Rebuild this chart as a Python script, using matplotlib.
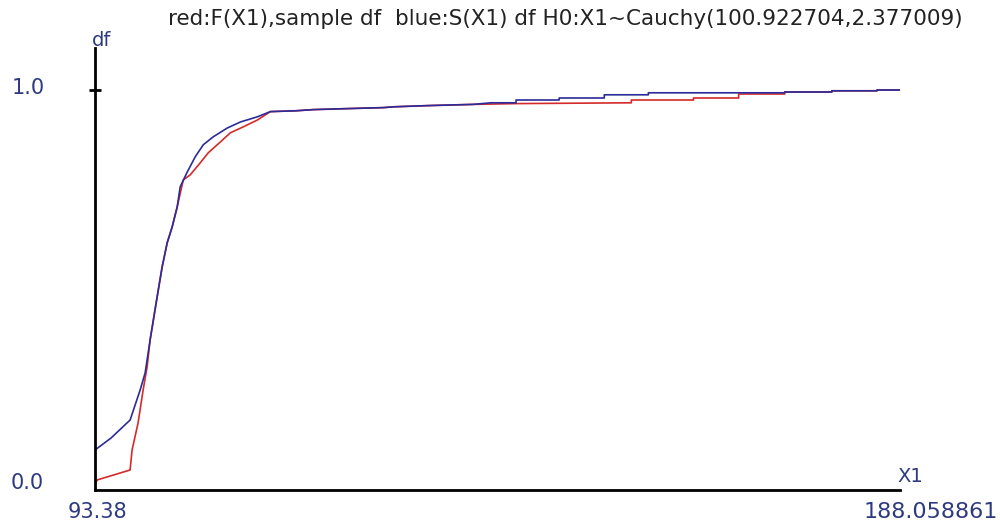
import matplotlib
matplotlib.use("Agg")
from matplotlib import pyplot as plt

# sample df S(X1) (blue) and fitted Cauchy F(X1) (red)
blue_x = [93.38, 95.27, 97.51, 98.69, 99.28, 99.86, 100.69, 101.28, 101.87, 102.46,
          103.05, 103.40, 104.23, 105.17, 106.11, 107.29, 108.94, 110.48, 112.48,
          114.01, 116.96, 119.08, 122.27, 127.34, 128.52, 132.53, 137.83, 139.95,
          142.90, 142.90, 147.97, 147.97, 153.28, 153.28, 158.46, 158.46, 174.50,
          174.50, 180.04, 180.04, 185.35, 185.35, 188.06]
blue_y = [0.100, 0.130, 0.175, 0.250, 0.293, 0.375, 0.483, 0.558, 0.618, 0.658,
          0.708, 0.758, 0.795, 0.833, 0.863, 0.883, 0.905, 0.920, 0.933,
          0.946, 0.948, 0.951, 0.953, 0.956, 0.958, 0.961, 0.964, 0.968,
          0.968, 0.975, 0.975, 0.980, 0.980, 0.988, 0.988, 0.993, 0.993,
          0.995, 0.995, 0.998, 0.998, 1.000, 1.000]

red_x = [93.38, 93.62, 97.51, 97.74, 98.45, 99.04, 99.51, 99.86, 100.69, 101.28,
         101.87, 102.46, 103.05, 103.76, 104.58, 105.76, 106.70, 108.12, 109.30,
         110.83, 112.48, 114.01, 116.96, 119.08, 122.27, 127.34, 128.52, 132.53,
         137.83, 142.90, 156.46, 156.46, 163.77, 163.77, 169.08, 169.08, 174.50,
         174.50, 180.04, 180.04, 185.35, 185.35, 188.06]
red_y = [0.013, 0.025, 0.050, 0.100, 0.168, 0.250, 0.308, 0.375, 0.483, 0.558,
         0.618, 0.658, 0.708, 0.775, 0.788, 0.818, 0.843, 0.870, 0.893,
         0.908, 0.925, 0.946, 0.948, 0.951, 0.953, 0.956, 0.958, 0.961,
         0.964, 0.966, 0.968, 0.975, 0.975, 0.980, 0.980, 0.990, 0.990,
         0.995, 0.995, 0.998, 0.998, 1.000, 1.000]

x_min, x_max = 93.38, 188.058861
title = "red:F(X1),sample df  blue:S(X1) df H0:X1~Cauchy(100.922704,2.377009)"
lab_col = "#2e3a80"

plt.rcParams['font.family'] = ['DejaVu Sans']

fig = plt.figure(figsize=(10, 5.25), dpi=100)
ax = fig.add_axes([0.095, 35 / 525, 0.805, 442 / 525])

ax.plot(red_x, red_y, color="#d42a2a", lw=1.2)
ax.plot(blue_x, blue_y, color="#2b2b9a", lw=1.2)

ax.set_xlim(x_min, x_max)
ax.set_ylim(0, 1.105)
for s in ["top", "right"]:
    ax.spines[s].set_visible(False)
for s in ["left", "bottom"]:
    ax.spines[s].set_linewidth(2.0)
    ax.spines[s].set_color("black")
ax.set_xticks([])
ax.set_yticks([1.0])
ax.set_yticklabels([])
ax.tick_params(axis="y", direction="inout", length=8, width=2)

fig.text(0.012, 1 - 88 / 525, "1.0", fontsize=15, color=lab_col, ha="left", va="center")
fig.text(0.011, 1 - 483 / 525, "0.0", fontsize=15, color=lab_col, ha="left", va="center")
fig.text(0.097, 1 - 512 / 525, "93.38", fontsize=15, color=lab_col, ha="center", va="center")
fig.text(0.998, 1 - 512 / 525, "188.058861", fontsize=16, color=lab_col, ha="right", va="center")
fig.text(0.897, 1 - 477 / 525, "X1", fontsize=14, color=lab_col, ha="left", va="center")
fig.text(0.102, 1 - 40 / 525, "df", fontsize=14, color=lab_col, ha="center", va="center")
fig.text(0.168, 1 - 19 / 525, title, fontsize=15.5, color="#222222", ha="left", va="center")

fig.savefig("out.png", dpi=100)
